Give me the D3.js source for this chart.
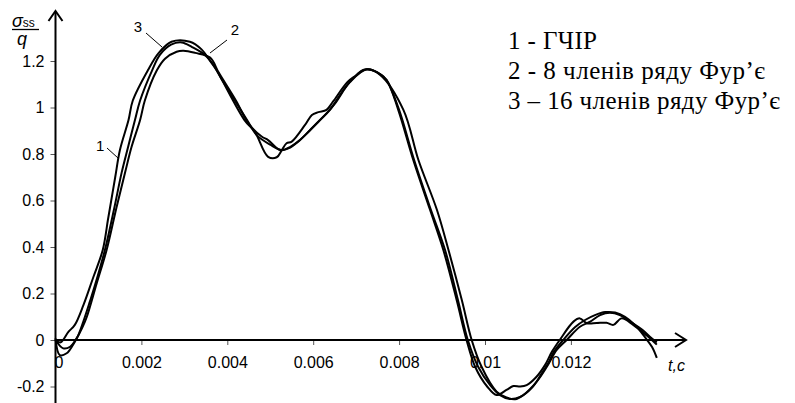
<!DOCTYPE html>
<html><head><meta charset="utf-8">
<script src="https://cdn.jsdelivr.net/npm/d3@7"></script>
<style>body{margin:0;background:#fff}svg{display:block}</style>
</head><body>
<svg id="c" width="795" height="403"></svg>
<script>
// ---- data ----
const xTicks = [0, 0.002, 0.004, 0.006, 0.008, 0.01, 0.012];
const xTickLabels = ["0", "0.002", "0.004", "0.006", "0.008", "0.01", "0.012"];
const yTicks = [-0.2, 0, 0.2, 0.4, 0.6, 0.8, 1, 1.2];
const yTickLabels = ["-0.2", "0", "0.2", "0.4", "0.6", "0.8", "1", "1.2"];
const legendLines = ["1 - ГЧІР", "2 - 8 членів ряду Фур’є", "3 – 16 членів ряду Фур’є"];

// curve 1 – ГЧІР
const t1 = [0, 0.00012, 0.0003, 0.00045, 0.00065, 0.00088, 0.0011, 0.00122, 0.00127, 0.00139, 0.0015, 0.0017, 0.0018, 0.00215, 0.0024, 0.0027, 0.00313, 0.0034, 0.0036, 0.00375, 0.0044, 0.00464, 0.00495, 0.00515, 0.00527, 0.00538, 0.0055, 0.00581, 0.00597, 0.00612, 0.00631, 0.00646, 0.0068, 0.00701, 0.0071, 0.0072, 0.0075, 0.00771, 0.00798, 0.00833, 0.00872, 0.00903, 0.00934, 0.00957, 0.00977, 0.01005, 0.01027, 0.0105, 0.01066, 0.01082, 0.01097, 0.0112, 0.0114, 0.01156, 0.01174, 0.01206, 0.01221, 0.01237, 0.0126, 0.01283, 0.01299, 0.01318, 0.01345, 0.01376, 0.01396, 0.014];
const v1 = [0, -0.01, 0.035, 0.065, 0.15, 0.27, 0.387, 0.516, 0.57, 0.70, 0.817, 0.946, 1.03, 1.16, 1.234, 1.283, 1.283, 1.25, 1.2, 1.16, 0.946, 0.896, 0.788, 0.786, 0.817, 0.846, 0.853, 0.925, 0.968, 0.98, 0.99, 1.025, 1.11, 1.14, 1.155, 1.164, 1.15, 1.118, 0.99, 0.774, 0.56, 0.387, 0.172, 0, -0.115, -0.2, -0.237, -0.215, -0.198, -0.2, -0.194, -0.158, -0.107, -0.05, 0, 0.079, 0.093, 0.072, 0.073, 0.074, 0.065, 0.093, 0.065, 0.02, -0.013, -0.02];

// curve 2 – 8 terms
const t2 = [0, 0.00018, 0.00034, 0.00049, 0.00064, 0.00073, 0.00096, 0.00119, 0.00142, 0.00162, 0.00177, 0.00197, 0.00208, 0.00236, 0.00255, 0.00282, 0.00298, 0.00325, 0.0036, 0.0038, 0.0042, 0.0045, 0.0048, 0.00495, 0.00523, 0.00542, 0.00565, 0.00589, 0.00612, 0.00631, 0.00651, 0.00686, 0.00725, 0.00756, 0.0081, 0.00845, 0.00888, 0.00915, 0.00946, 0.00969, 0.00992, 0.01027, 0.0105, 0.0107, 0.01089, 0.0112, 0.01144, 0.01167, 0.0119, 0.01221, 0.01245, 0.01268, 0.01291, 0.01314, 0.01338, 0.01367, 0.01388, 0.014];
const v2 = [0.0, -0.036, -0.029, 0.007, 0.06, 0.1, 0.244, 0.387, 0.57, 0.72, 0.83, 0.946, 1.03, 1.16, 1.21, 1.24, 1.244, 1.235, 1.215, 1.15, 1.03, 0.93, 0.875, 0.86, 0.817, 0.824, 0.853, 0.896, 0.939, 0.975, 1.018, 1.11, 1.164, 1.14, 0.99, 0.774, 0.56, 0.387, 0.172, 0, -0.115, -0.222, -0.247, -0.255, -0.237, -0.18, -0.115, -0.043, 0, 0.057, 0.079, 0.107, 0.117, 0.107, 0.079, 0.043, 0.007, -0.01];

// curve 3 – 16 terms
const t3 = [0, 0.0001, 0.00026, 0.00041, 0.00053, 0.00065, 0.0008, 0.00092, 0.00115, 0.00136, 0.00154, 0.00169, 0.00185, 0.00197, 0.00225, 0.00243, 0.00269, 0.00294, 0.00318, 0.00348, 0.00369, 0.00388, 0.00446, 0.00469, 0.005, 0.00527, 0.00546, 0.00569, 0.00593, 0.00616, 0.00639, 0.00674, 0.00701, 0.00725, 0.00756, 0.00771, 0.008, 0.00835, 0.00874, 0.00907, 0.00937, 0.0096, 0.00984, 0.01012, 0.01035, 0.01058, 0.01082, 0.01109, 0.0113, 0.01147, 0.0116, 0.01182, 0.0121, 0.01233, 0.01256, 0.0128, 0.01303, 0.01326, 0.01349, 0.01372, 0.01389, 0.014];
const v3 = [0.007, -0.065, -0.057, -0.02, 0.02, 0.08, 0.165, 0.236, 0.387, 0.56, 0.72, 0.83, 0.946, 1.03, 1.16, 1.226, 1.27, 1.28, 1.26, 1.226, 1.18, 1.118, 0.946, 0.88, 0.84, 0.817, 0.83, 0.86, 0.903, 0.946, 0.99, 1.084, 1.14, 1.164, 1.144, 1.118, 0.99, 0.774, 0.56, 0.387, 0.172, 0, -0.115, -0.194, -0.237, -0.254, -0.245, -0.206, -0.15, -0.1, -0.052, 0, 0.056, 0.086, 0.107, 0.12, 0.118, 0.1, 0.065, 0.013, -0.03, -0.077];

// curve labels (position in data units)
const curveLabels = [
  {label: "1", tx: 0.00104, ty: 0.83},
  {label: "3", tx: 0.00192, ty: 1.34},
  {label: "2", tx: 0.00418, ty: 1.33}
];

// ---- drawing ----
const svg = d3.select("#c");
const x = d3.scaleLinear().domain([0, 0.014]).range([55.5, 656.8]);
const y = d3.scaleLinear().domain([0, 1.2]).range([340, 61]);
const X0 = x(0), Y0 = y(0);

const fontSans = "Arial, 'Liberation Sans', sans-serif";

// y axis ticks/labels
const gy = svg.append("g").attr("transform", `translate(${X0},0)`)
  .call(d3.axisLeft(y).tickValues(yTicks).tickSize(5).tickPadding(6)
        .tickFormat((d, i) => yTickLabels[i]));
gy.select(".domain").remove();
gy.selectAll(".tick line").attr("stroke", "#555").attr("stroke-width", 1);
gy.selectAll(".tick text").style("font-family", fontSans).style("font-size", "16px").attr("fill", "#000");

// x axis ticks/labels
const gx = svg.append("g").attr("transform", `translate(0,${Y0})`)
  .call(d3.axisBottom(x).tickValues(xTicks).tickSize(5).tickPadding(12)
        .tickFormat((d, i) => xTickLabels[i]));
gx.select(".domain").remove();
gx.selectAll(".tick line").attr("stroke", "#555").attr("stroke-width", 1);
gx.selectAll(".tick text").style("font-family", fontSans).style("font-size", "16px").attr("fill", "#000")
  .attr("dx", (d, i) => i === 0 ? 3 : 0);

// axis lines with arrows
svg.append("line").attr("x1", X0).attr("y1", 403).attr("x2", X0).attr("y2", 12)
  .attr("stroke", "#000").attr("stroke-width", 2);
svg.append("path").attr("d", `M${X0-7},${21} L${X0},${11} L${X0+7},${21}`)
  .attr("fill", "none").attr("stroke", "#000").attr("stroke-width", 2);
svg.append("line").attr("x1", X0).attr("y1", Y0).attr("x2", 685).attr("y2", Y0)
  .attr("stroke", "#000").attr("stroke-width", 2);
svg.append("path").attr("d", `M${675},${Y0-7} L${686},${Y0} L${675},${Y0+7}`)
  .attr("fill", "none").attr("stroke", "#000").attr("stroke-width", 2);

// axis titles
svg.append("text").attr("x", 668).attr("y", 371).style("font-family", fontSans)
  .style("font-style", "italic").style("font-size", "16px").text("t,c");
const yl = svg.append("text").attr("x", 12).attr("y", 27).style("font-family", fontSans).style("font-size", "18px");
yl.append("tspan").style("font-style", "italic").text("σ");
yl.append("tspan").style("font-size", "12px").text("ss");
svg.append("line").attr("x1", 12).attr("x2", 39).attr("y1", 29.5).attr("y2", 29.5)
  .attr("stroke", "#000").attr("stroke-width", 1.3);
svg.append("text").attr("x", 17).attr("y", 45).style("font-family", fontSans)
  .style("font-style", "italic").style("font-size", "18px").text("q");

// curves
const series = [[t1, v1], [t2, v2], [t3, v3]];
const line = d3.line().x(d => x(d[0])).y(d => y(d[1])).curve(d3.curveCatmullRom.alpha(0.5));
series.forEach(([ts, vs]) => {
  svg.append("path").datum(ts.map((t, i) => [t, vs[i]]))
    .attr("d", line).attr("fill", "none").attr("stroke", "#000")
    .attr("stroke-width", 2).attr("stroke-linejoin", "round");
});

// curve labels with leaders
curveLabels.forEach(c => {
  svg.append("text").attr("x", x(c.tx)).attr("y", y(c.ty)).attr("text-anchor", "middle")
    .attr("dominant-baseline", "middle").style("font-family", fontSans).style("font-size", "15px").text(c.label);
});
const leaders = [[107, 148, 118, 158], [146, 33, 162, 47], [227, 40, 210, 53]];
leaders.forEach(l => svg.append("line").attr("x1", l[0]).attr("y1", l[1]).attr("x2", l[2]).attr("y2", l[3])
  .attr("stroke", "#000").attr("stroke-width", 1));

// legend text
const legendWidths = [89, 257, 272];
legendLines.forEach((s, i) => {
  svg.append("text").attr("x", 508).attr("y", 49 + i * 30)
    .style("font-family", "'Liberation Serif', 'Times New Roman', serif").style("font-size", "25px")
    .attr("textLength", legendWidths[i]).attr("lengthAdjust", "spacing").text(s);
});
</script>
</body></html>
